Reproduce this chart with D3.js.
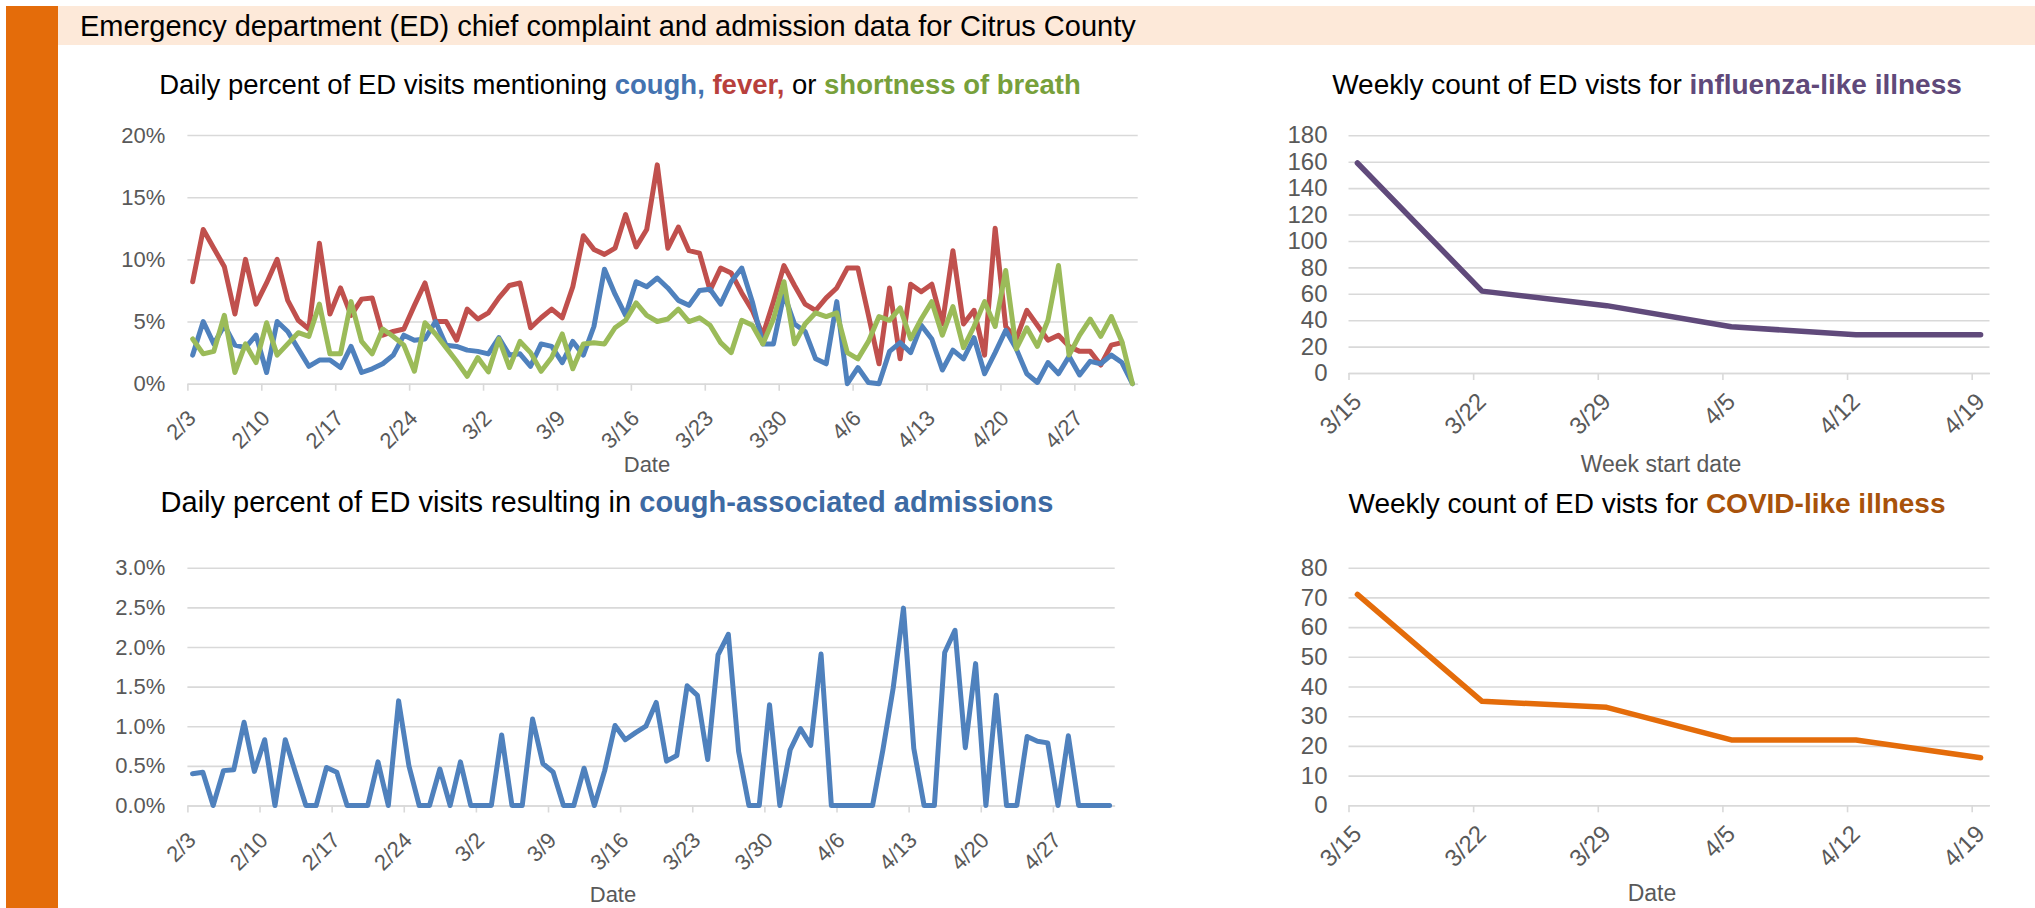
<!DOCTYPE html>
<html>
<head>
<meta charset="utf-8">
<script src="https://cdn.jsdelivr.net/npm/d3@7/dist/d3.min.js"></script>
<style>
  body { margin: 0; background: #fff; }
  svg text { font-family: "Liberation Sans", Arial, sans-serif; }
</style>
</head>
<body>
<svg id="chart" width="2035" height="908"></svg>
<script>
// daily categories 2/3 .. 5/2
const days = d3.timeDay.range(new Date(2020, 1, 3), new Date(2020, 4, 3));
const dayTicks = ["2/3", "2/10", "2/17", "2/24", "3/2", "3/9", "3/16", "3/23", "3/30", "4/6", "4/13", "4/20", "4/27"];

// percent of ED visits, daily
const cough = [2.3, 5.0, 3.2, 4.7, 3.1, 2.9, 3.9, 0.9, 5.0, 4.2,
  2.8, 1.4, 1.9, 1.9, 1.3, 3.0, 0.9, 1.2, 1.6, 2.3,
  3.9, 3.5, 3.6, 5.0, 3.1, 3.0, 2.7, 2.6, 2.4, 3.7,
  2.3, 2.4, 1.4, 3.2, 3.0, 1.7, 3.4, 2.3, 4.6, 9.2,
  7.2, 5.5, 8.2, 7.8, 8.5, 7.7, 6.7, 6.3, 7.5, 7.6,
  6.4, 8.2, 9.3, 6.6, 3.2, 3.2, 7.2, 4.8, 4.2, 2.0,
  1.6, 6.6, 0, 1.3, 0.1, 0, 2.6, 3.3, 2.5, 4.7,
  3.6, 1.1, 2.7, 2.0, 3.7, 0.8, 2.5, 4.3, 2.8, 0.8,
  0.1, 1.7, 0.8, 2.2, 0.7, 1.8, 1.6, 2.3, 1.7, 0];
const fever = [8.2, 12.4, 10.9, 9.4, 5.6, 10.0, 6.4, 8.1, 10.0, 6.7,
  5.1, 4.4, 11.3, 5.6, 7.7, 5.5, 6.8, 6.9, 3.9, 4.2,
  4.4, 6.3, 8.1, 5.0, 5.0, 3.5, 6.0, 5.2, 5.7, 6.9,
  7.9, 8.1, 4.5, 5.3, 6.0, 5.3, 7.8, 11.9, 10.8, 10.4,
  10.9, 13.6, 11.0, 12.4, 17.6, 10.9, 12.6, 10.7, 10.5, 7.5,
  9.3, 8.9, 7.3, 5.9, 3.9, 6.6, 9.5, 7.9, 6.4, 5.9,
  6.9, 7.7, 9.3, 9.3, 5.5, 1.6, 7.7, 2.0, 8.0, 7.4,
  8.0, 4.8, 10.7, 4.8, 5.9, 2.3, 12.5, 4.6, 3.6, 5.9,
  4.7, 3.5, 3.9, 3.0, 2.6, 2.6, 1.5, 3.1, 3.3, null];
const breath = [3.6, 2.4, 2.6, 5.5, 0.9, 3.2, 1.7, 4.9, 2.3, 3.2,
  4.1, 3.8, 6.4, 2.4, 2.4, 6.6, 3.4, 2.4, 4.4, 3.8,
  3.1, 1.0, 4.9, 4.0, 2.9, 1.8, 0.6, 2.1, 0.95, 3.6,
  1.3, 3.4, 2.5, 1.0, 2.1, 4.0, 1.2, 3.2, 3.3, 3.2,
  4.5, 5.1, 6.5, 5.5, 5.0, 5.2, 6.0, 5.0, 5.3, 4.7,
  3.3, 2.5, 5.1, 4.7, 3.2, 5.2, 8.2, 3.2, 4.8, 5.7,
  5.4, 5.7, 2.5, 2.0, 3.4, 5.4, 5.1, 6.1, 3.6, 5.2,
  6.6, 3.9, 6.2, 2.9, 4.6, 6.6, 4.6, 9.1, 2.8, 4.5,
  3.0, 5.1, 9.5, 2.3, 3.9, 5.2, 3.8, 5.4, 3.4, 0];
const admissions = [0.40, 0.42, 0, 0.44, 0.45, 1.05, 0.43, 0.83, 0, 0.83,
  0.41, 0, 0, 0.48, 0.42, 0, 0, 0, 0.55, 0,
  1.32, 0.50, 0, 0, 0.46, 0, 0.55, 0, 0, 0,
  0.89, 0, 0, 1.09, 0.53, 0.42, 0, 0, 0.47, 0,
  0.44, 1.01, 0.83, 0.92, 1.0, 1.30, 0.56, 0.63, 1.51, 1.39,
  0.58, 1.90, 2.16, 0.68, 0, 0, 1.27, 0, 0.70, 0.97,
  0.76, 1.91, 0, 0, 0, 0, 0, 0.70, 1.48, 2.49,
  0.72, 0, 0, 1.93, 2.21, 0.73, 1.79, 0, 1.39, 0,
  0, 0.87, 0.81, 0.79, 0, 0.88, 0, 0, 0, 0];

// weekly counts
const weekLabels = ["3/15", "3/22", "3/29", "4/5", "4/12", "4/19"];
const ili = [159, 62, 51, 35, 29, 29];
const cli = [71, 35, 33, 22, 22, 16];

const svg = d3.select("#chart");
const grid = "#d9d9d9", tickText = "#595959";

// banner
svg.append("rect").attr("x", 58).attr("y", 6).attr("width", 1977).attr("height", 39).attr("fill", "#fde9d9");
svg.append("rect").attr("x", 6).attr("y", 6).attr("width", 52).attr("height", 902).attr("fill", "#e46c0a");
svg.append("text").attr("x", 80).attr("y", 36).attr("font-size", 29).attr("fill", "#000")
  .text("Emergency department (ED) chief complaint and admission data for Citrus County");

// f = {x0, x1, y0 (bottom), y1 (top), slots, ticks, labels, yMax, yStep, fmt, fs}
function panel(f) {
  const x = d3.scaleLinear().domain([0, f.slots]).range([f.x0, f.x1]);
  const y = d3.scaleLinear().domain([0, f.yMax]).range([f.y0, f.y1]);
  const half = (x(1) - x(0)) / 2;

  const gy = svg.append("g").attr("transform", "translate(" + f.x0 + ",0)")
    .call(d3.axisLeft(y).tickValues(d3.range(0, f.yMax + f.yStep / 2, f.yStep))
      .tickSize(-(f.x1 - f.x0)).tickPadding(f.pad || 22).tickFormat(f.fmt));
  gy.select(".domain").remove();
  gy.selectAll("line").attr("stroke", grid).attr("stroke-width", 1.6);
  gy.selectAll("text").attr("fill", tickText).attr("font-size", f.fs);

  const gx = svg.append("g").attr("transform", "translate(0," + f.y0 + ")")
    .call(d3.axisBottom(x).tickValues(f.ticks).tickSizeOuter(0).tickSizeInner(7)
      .tickFormat((d, i) => f.labels[i]));
  gx.select(".domain").attr("stroke", grid).attr("stroke-width", 1.6);
  gx.selectAll("line").attr("stroke", grid).attr("stroke-width", 1.6);
  gx.selectAll("text").attr("fill", tickText).attr("font-size", f.fs)
    .attr("x", 0).attr("y", 0).attr("dy", null).attr("text-anchor", "end")
    .attr("transform", "translate(" + (half + f.lx) + "," + f.ly + ") rotate(-45)");

  return { x: x, y: y };
}

function series(sc, values, color, width) {
  const line = d3.line()
    .defined(d => d != null)
    .x((d, i) => sc.x(i + 0.5))
    .y(d => sc.y(d));
  svg.append("path").attr("d", line(values))
    .attr("fill", "none").attr("stroke", color).attr("stroke-width", width)
    .attr("stroke-linejoin", "round").attr("stroke-linecap", "round");
}

function weeklySeries(sc, values, color, width) {
  const line = d3.line()
    .x((d, i) => sc.x(i * 7 + 0.5))
    .y(d => sc.y(d));
  svg.append("path").attr("d", line(values))
    .attr("fill", "none").attr("stroke", color).attr("stroke-width", width)
    .attr("stroke-linejoin", "round").attr("stroke-linecap", "round");
}

function title(x, y, fs, parts) {
  const t = svg.append("text").attr("x", x).attr("y", y).attr("text-anchor", "middle")
    .attr("font-size", fs).attr("fill", "#000");
  parts.forEach(p => {
    t.append("tspan").text(p[0]).attr("fill", p[1] || "#000").attr("font-weight", p[1] ? "bold" : null);
  });
}

function axisTitle(x, y, s, fs) {
  svg.append("text").attr("x", x).attr("y", y).attr("text-anchor", "middle")
    .attr("font-size", fs).attr("fill", tickText).text(s);
}

const weekTickIdx = dayTicks.map((d, i) => i * 7);
const pct0 = d => d + "%";
const pct1 = d => d.toFixed(1) + "%";

// top left: cough / fever / shortness of breath
const a = panel({ x0: 187.4, x1: 1137.7, y0: 383.7, y1: 135, slots: days.length,
  ticks: weekTickIdx, labels: dayTicks, yMax: 20, yStep: 5, fmt: pct0, fs: 22, lx: 4, ly: 36 });
series(a, fever, "#c0504d", 5);
series(a, cough, "#4f81bd", 5);
series(a, breath, "#9bbb59", 5);
title(620, 94, 27.5, [["Daily percent of ED visits mentioning "], ["cough,", "#4473b0"], [" "],
  ["fever,", "#b8403c"], [" or "], ["shortness of breath", "#77a03b"]]);
axisTitle(647, 472, "Date", 22);

// bottom left: cough-associated admissions
const b = panel({ x0: 187.4, x1: 1114.7, y0: 805.5, y1: 567.7, slots: days.length,
  ticks: weekTickIdx, labels: dayTicks, yMax: 3, yStep: 0.5, fmt: pct1, fs: 22, lx: 4, ly: 36 });
series(b, admissions, "#4f81bd", 5);
title(607, 512, 29, [["Daily percent of ED visits resulting in "], ["cough-associated admissions", "#3d6aa3"]]);
axisTitle(613, 902, "Date", 22);

// top right: influenza-like illness
const weekIdx = weekLabels.map((d, i) => i * 7);
const c = panel({ x0: 1348.5, x1: 1989.5, y0: 373, y1: 135.3, slots: 36,
  ticks: weekIdx, labels: weekLabels, yMax: 180, yStep: 20, fmt: d => d, fs: 24, pad: 21, lx: 5, ly: 30 });
weeklySeries(c, ili, "#604a7b", 5.5);
title(1647, 94, 28, [["Weekly count of ED vists for "], ["influenza-like illness", "#60497a"]]);
axisTitle(1661, 472, "Week start date", 23);

// bottom right: COVID-like illness
const e = panel({ x0: 1348.5, x1: 1989.5, y0: 805.3, y1: 567.7, slots: 36,
  ticks: weekIdx, labels: weekLabels, yMax: 80, yStep: 10, fmt: d => d, fs: 24, pad: 21, lx: 5, ly: 30 });
weeklySeries(e, cli, "#e46c0a", 5.5);
title(1647, 513, 28, [["Weekly count of ED vists for "], ["COVID-like illness", "#a8520a"]]);
axisTitle(1652, 901, "Date", 23);
</script>
</body>
</html>
